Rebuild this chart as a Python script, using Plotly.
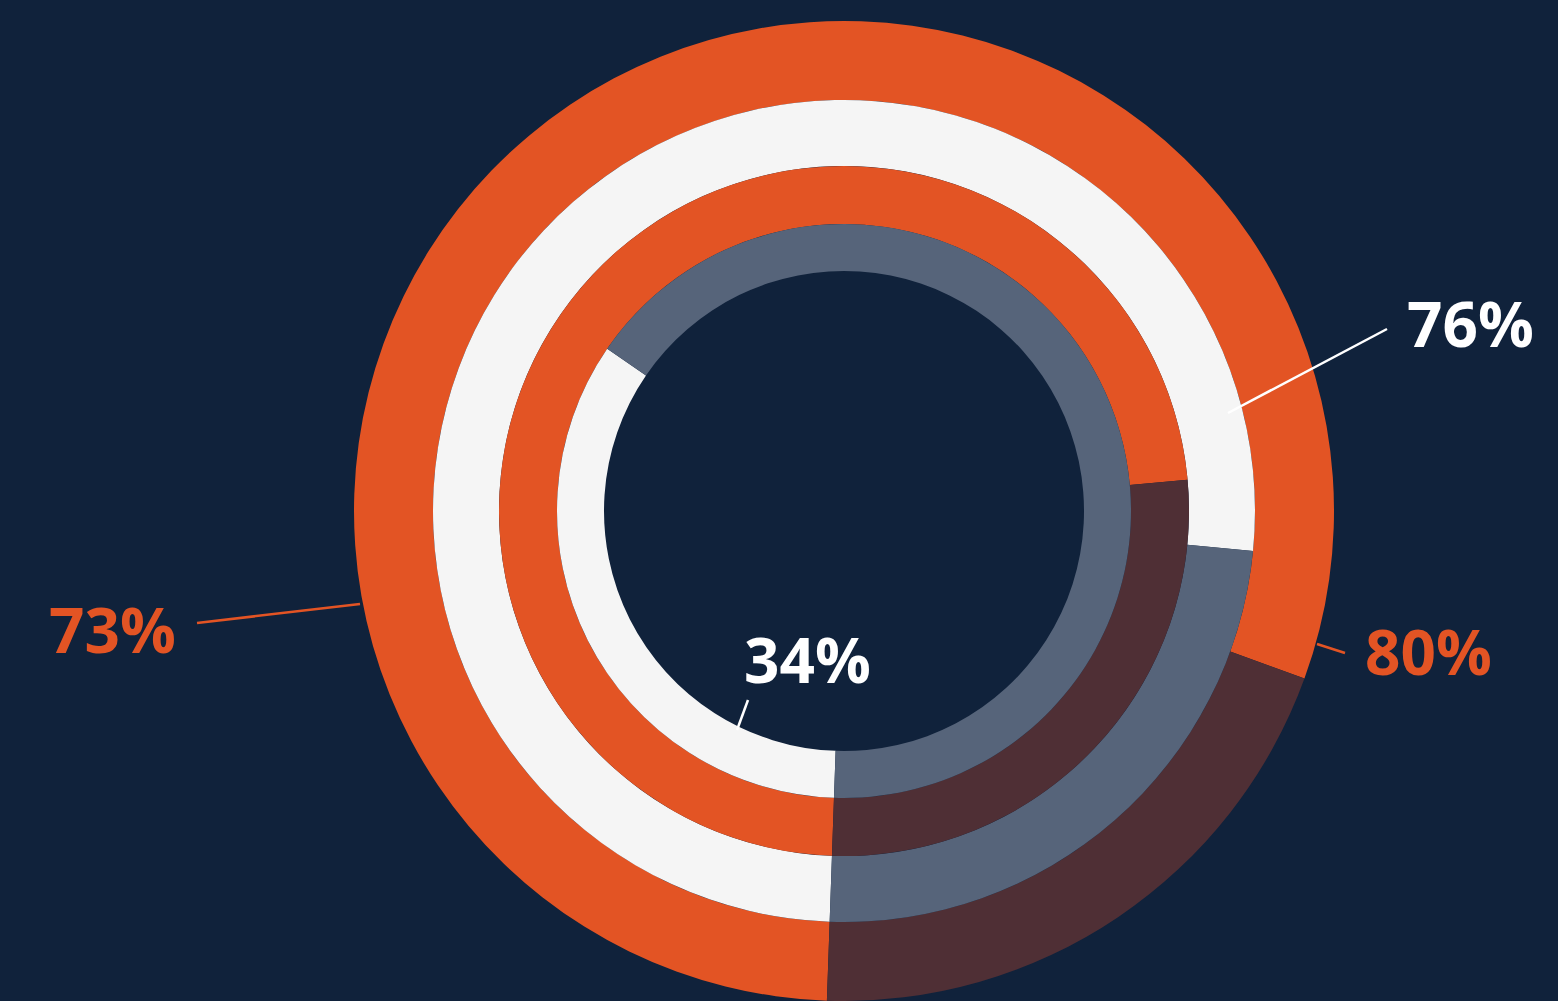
import plotly.graph_objects as go

W, H = 1558, 1001
CX, CY = 844, 511

# ring data (outer -> inner)
ring_names = ["Outer", "Second", "Third", "Inner"]
ring_values = [[80, 20], [76, 24], [73, 27], [34, 66]]
ring_colors = [["#e35424", "#4f2f35"], ["#f5f5f5", "#56647a"],
               ["#e35424", "#4f2f35"], ["#f5f5f5", "#56647a"]]
ring_outer = [490, 411, 345, 287]
ring_inner = [411, 345, 287, 240]

labels_text = ["76%", "80%", "73%", "34%"]
labels_color = ["#ffffff", "#e35424", "#e35424", "#ffffff"]
labels_pos = [(1470, 323), (1428, 651), (112, 629), (808, 659)]
leader_lines = [((1387, 329), (1228, 413)), ((1345, 653), (1317, 644)),
                ((197, 623), (360, 604)), ((748, 700), (737, 730))]

BG = "#10223b"

fig = go.Figure()
for name, vals, cols, ro, ri in zip(ring_names, ring_values, ring_colors, ring_outer, ring_inner):
    x0 = (CX - ro) / W
    x1 = (CX + ro) / W
    y0 = max(0.0, (H - CY - ro) / H)
    y1 = min(1.0, (H - CY + ro) / H)
    fig.add_trace(go.Pie(
        values=vals, labels=[name + " A", name + " B"], sort=False,
        direction="clockwise", rotation=-178,
        hole=ri / ro, marker=dict(colors=cols, line=dict(width=0)),
        textinfo="none", hoverinfo="skip", showlegend=False,
        domain=dict(x=[x0, x1], y=[y0, y1]),
    ))

for txt, col, (px, py) in zip(labels_text, labels_color, labels_pos):
    fig.add_annotation(x=px / W, y=1 - py / H, xref="paper", yref="paper",
                       text="<b>" + txt + "</b>", showarrow=False,
                       xanchor="center", yanchor="middle",
                       font=dict(family="Open Sans", size=62, color=col))

for ((ax, ay), (bx, by)), col in zip(leader_lines, labels_color):
    fig.add_shape(type="line", xref="paper", yref="paper",
                  x0=ax / W, y0=1 - ay / H, x1=bx / W, y1=1 - by / H,
                  line=dict(color=col, width=2.5))

fig.update_layout(width=W, height=H, margin=dict(l=0, r=0, t=0, b=0),
                  paper_bgcolor=BG, plot_bgcolor=BG)
fig.write_html("out.html")
